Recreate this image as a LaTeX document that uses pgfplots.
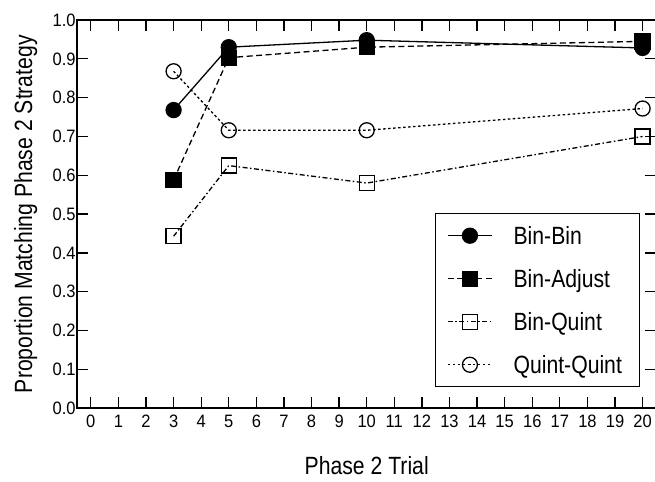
\documentclass[border=0pt]{standalone}
\usepackage{fontspec}
\setmainfont{Liberation Sans}[FakeStretch=0.85]
\newfontfamily\tickfont{Liberation Sans}[FakeStretch=0.92]
\usepackage{pgfplots}
\pgfplotsset{compat=1.18}

\begin{document}
\begin{tikzpicture}
\begin{axis}[
    scale only axis,
    width=579bp, height=388bp,
    xmin=-0.5, xmax=20.5,
    ymin=0, ymax=1,
    xtick={0,1,...,20},
    ytick={0,0.1,0.2,0.3,0.4,0.5,0.6,0.7,0.8,0.9,1.0},
    tick align=inside,
    major tick length=11bp,
    tick style={line width=1.3bp, black},
    axis line style={line width=1.5bp},
    /pgf/number format/assume math mode=true,
    yticklabel style={/pgf/number format/fixed, /pgf/number format/fixed zerofill, /pgf/number format/precision=1, xshift=2bp},
    ticklabel style={font=\tickfont\fontsize{18}{20}\selectfont},
    xticklabel style={yshift=-3bp},
    xlabel={Phase 2 Trial},
    ylabel={Proportion Matching Phase 2 Strategy},
    label style={font=\fontsize{25}{28}\selectfont},
    xlabel style={at={(axis description cs:0.5,-0.170)}, anchor=base},
    ylabel style={at={(axis description cs:-0.0777,0.5)}, anchor=base},
    every axis plot/.append style={line width=1.3bp, black},
    legend image code/.code={\draw[mark repeat=2,mark phase=2] plot coordinates {(0bp,0bp) (22bp,0bp) (44bp,0bp)};},
    legend cell align=left,
    legend style={
        at={(axis description cs:0.972,0.054)}, anchor=south east,
        draw=black, line width=1bp,
        font=\fontsize{25}{28}\selectfont,
        inner xsep=12bp, inner ysep=13bp,
        row sep=25bp, column sep=21bp,
        nodes={inner sep=0pt, text height=18bp, text depth=0bp, text width=114bp, align=left},
    },
]

% Bin-Bin
\addplot[solid, mark=*, mark size=7.5bp]
    coordinates {(3,0.768) (5,0.930) (10,0.948) (20,0.928)};

% Bin-Adjust
\addplot[dash pattern=on 6bp off 3.5bp, mark=square*, mark size=7.5bp, mark options={solid}]
    coordinates {(3,0.588) (5,0.903) (10,0.930) (20,0.945)};

% Bin-Quint
\addplot[dash pattern=on 5bp off 2.5bp on 1.5bp off 2.5bp, mark=square, mark size=7.5bp, mark options={solid}]
    coordinates {(3,0.443) (5,0.625) (10,0.580) (20,0.700)};

% Quint-Quint
\addplot[dash pattern=on 2.5bp off 2.5bp, mark=o, mark size=7.5bp, mark options={solid}]
    coordinates {(3,0.868) (5,0.716) (10,0.716) (20,0.772)};

\legend{Bin-Bin, Bin-Adjust, Bin-Quint, Quint-Quint}
\end{axis}
\pgfresetboundingbox
\path[use as bounding box] ([shift={(-77bp,-73bp)}]current axis.south west) rectangle ([shift={(-1.4bp,20bp)}]current axis.north east);
\end{tikzpicture}
\end{document}
